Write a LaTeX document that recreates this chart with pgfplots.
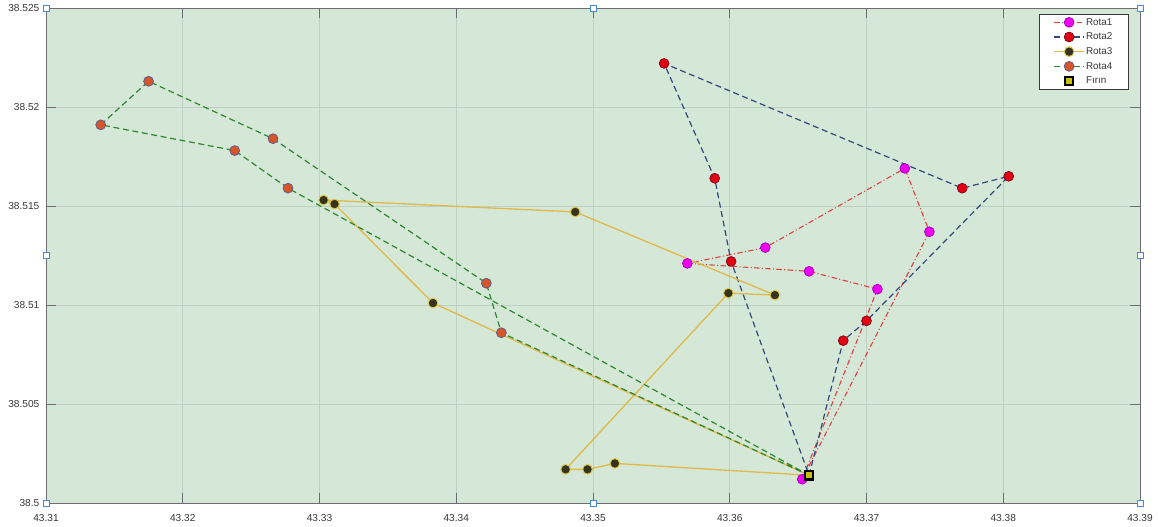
\documentclass[border=0pt]{standalone}
\usepackage{pgfplots}
\pgfplotsset{compat=1.18}
\usepackage{fontspec}
\setmainfont{Liberation Sans}
\definecolor{bg}{RGB}{213,232,216}
\definecolor{gridc}{RGB}{190,208,194}
\definecolor{axisc}{RGB}{110,110,110}
\definecolor{labc}{RGB}{55,55,55}
\definecolor{r1line}{RGB}{225,60,60}
\definecolor{r1fill}{RGB}{240,0,240}
\definecolor{r1edge}{RGB}{150,0,190}
\definecolor{r2line}{RGB}{50,72,125}
\definecolor{r2fill}{RGB}{225,0,20}
\definecolor{r2edge}{RGB}{120,0,20}
\definecolor{r3line}{RGB}{225,185,75}
\definecolor{r3fill}{RGB}{55,50,30}
\definecolor{r3edge}{RGB}{220,200,60}
\definecolor{r4line}{RGB}{45,135,45}
\definecolor{r4fill}{RGB}{215,85,40}
\definecolor{r4edge}{RGB}{95,95,135}
\definecolor{depfill}{RGB}{200,190,20}
\definecolor{handle}{RGB}{70,140,210}
\begin{document}
\begin{tikzpicture}
\begin{axis}[
  at={(0pt,0pt)}, anchor=south west,
  scale only axis, width=820.5pt, height=371.25pt,
  xmin=43.31, xmax=43.39, ymin=38.5, ymax=38.525,
  xtick={43.31,43.32,43.33,43.34,43.35,43.36,43.37,43.38,43.39},
  xticklabels={43.31,43.32,43.33,43.34,43.35,43.36,43.37,43.38,43.39},
  ytick={38.5,38.505,38.51,38.515,38.52,38.525},
  yticklabels={38.5,38.505,38.51,38.515,38.52,38.525},
  axis background/.style={fill=bg},
  grid=major, major grid style={gridc, line width=0.6pt},
  tick align=inside, major tick length=7.5pt,
  tick style={axisc, line width=0.6pt},
  axis line style={axisc, line width=0.7pt},
  ticklabel style={font=\fontsize{7.6}{9}\selectfont, text=labc},
  xticklabel style={yshift=-5pt},
  yticklabel style={xshift=-1.5pt},
  legend style={at={(1,1)}, anchor=north east, xshift=-8.25pt, yshift=-4.5pt,
    draw=labc, fill=white, line width=0.5pt,
    font=\fontsize{7.4}{9}\selectfont, text=labc,
    inner xsep=11pt, inner ysep=1.5pt, row sep=2pt,
    nodes={inner sep=1.2pt, text height=5.3pt, text depth=1.3pt}},
  legend cell align=left,
  legend image code/.code={\draw[#1, mark indices={2}] plot coordinates {(0pt,0pt)(11pt,0pt)(22pt,0pt)};},
]
% Rota1
\addplot[r1line, line width=0.8pt, dash pattern=on 4pt off 1.8pt on 0.8pt off 1.8pt,
  mark=*, mark size=3.7pt, mark options={solid, fill=r1fill, draw=r1edge, line width=0.5pt},
  mark indices={1,2,3,4,5,6,7}]
coordinates {
(43.3653,38.5012)
(43.3708,38.5108)
(43.3658,38.5117)
(43.3569,38.5121)
(43.3626,38.5129)
(43.3728,38.5169)
(43.3746,38.5137)
(43.3653,38.5012)
};
\addlegendentry{Rota1}
% Rota2
\addplot[r2line, line width=0.9pt, dash pattern=on 4.5pt off 2.7pt,
  mark=*, mark size=3.7pt, mark options={solid, fill=r2fill, draw=r2edge, line width=0.5pt},
  mark indices={2,3,4,5,6,7,8}]
coordinates {
(43.3658,38.5014)
(43.3683,38.5082)
(43.3700,38.5092)
(43.3804,38.5165)
(43.3770,38.5159)
(43.3552,38.5222)
(43.3589,38.5164)
(43.3601,38.5122)
(43.3658,38.5014)
};
\addlegendentry{Rota2}
% Rota3
\addplot[r3line, line width=1pt, solid,
  mark=*, mark size=3.6pt, mark options={solid, fill=r3fill, draw=r3edge, line width=0.7pt},
  mark indices={2,3,4,5,6,7,8,9,10}]
coordinates {
(43.3658,38.5014)
(43.3516,38.5020)
(43.3496,38.5017)
(43.3480,38.5017)
(43.3599,38.5106)
(43.3633,38.5105)
(43.3487,38.5147)
(43.3303,38.5153)
(43.3311,38.5151)
(43.3383,38.5101)
(43.3658,38.5014)
};
\addlegendentry{Rota3}
% Rota4
\addplot[r4line, line width=0.9pt, dash pattern=on 4.5pt off 2.7pt,
  mark=*, mark size=3.7pt, mark options={solid, fill=r4fill, draw=r4edge, line width=0.6pt},
  mark indices={2,3,4,5,6,7,8}]
coordinates {
(43.3658,38.5014)
(43.3277,38.5159)
(43.3238,38.5178)
(43.3140,38.5191)
(43.3175,38.5213)
(43.3266,38.5184)
(43.3422,38.5111)
(43.3433,38.5086)
(43.3658,38.5014)
};
\addlegendentry{Rota4}
% Firin
\addplot[only marks, mark=square*, mark size=3.2pt,
  mark options={fill=depfill, draw=black, line width=1.6pt}]
coordinates {(43.3658,38.5014)};
\addlegendentry{Fırın}
\end{axis}
% selection handles
\foreach \hx in {0pt,410.25pt,820.5pt}{
  \foreach \hy in {0pt,371.25pt}{
    \draw[handle, fill=white, line width=0.5pt] ([xshift=-2.2pt,yshift=-2.2pt]\hx,\hy) rectangle ([xshift=2.2pt,yshift=2.2pt]\hx,\hy);
  }}
\foreach \hx in {0pt,820.5pt}{
  \draw[handle, fill=white, line width=0.5pt] ([xshift=-2.2pt,yshift=-2.2pt]\hx,185.625pt) rectangle ([xshift=2.2pt,yshift=2.2pt]\hx,185.625pt);
}
\pgfresetboundingbox
\path[use as bounding box] (-34.5pt,-17.25pt) rectangle (834pt,377.25pt);
\end{tikzpicture}
\end{document}
